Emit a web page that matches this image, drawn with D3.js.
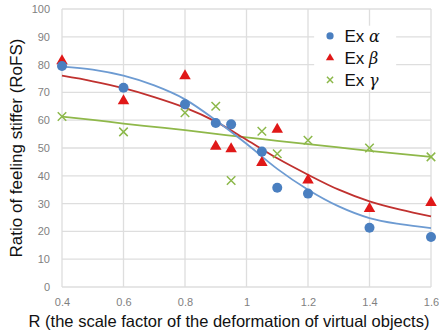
<!DOCTYPE html>
<html>
<head>
<meta charset="utf-8">
<script src="https://cdn.jsdelivr.net/npm/d3@7"></script>
<style>
  body { margin: 0; background: #fff; }
  svg { display: block; }
</style>
</head>
<body>
<div id="chart"></div>
<script>
// measured R values
var rValues = [0.4, 0.6, 0.8, 0.9, 0.95, 1.05, 1.1, 1.2, 1.4, 1.6];
var exAlpha = [79.5, 71.7, 65.7, 59, 58.5, 48.7, 35.7, 33.6, 21.3, 18];
var exBeta  = [81.3, 66.9, 75.9, 50.6, 49.7, 44.7, 56.7, 38.4, 28.2, 30.3];
var exGamma = [61.3, 55.8, 62.7, 65, 38.3, 56, 47.9, 52.8, 50, 46.8];

// trend curves
var trendX = [0.4, 0.5, 0.6, 0.7, 0.8, 0.9, 1.0, 1.1, 1.2, 1.3, 1.4, 1.5, 1.6];
var trendAlpha = [79.3, 78.2, 76, 72.5, 67.5, 60, 51.5, 42.5, 35, 29, 24.8, 22.6, 21.2];
var trendBeta  = [76, 74, 71.5, 68.3, 64.5, 59.5, 53, 46.3, 40.4, 35, 30.8, 27.8, 25.4];
var trendGamma = [61.3, 60.1, 58.8, 57.6, 56.4, 55.1, 53.8, 52.6, 51.4, 50.2, 49, 47.9, 46.8];

var xTicks = [0.4, 0.6, 0.8, 1, 1.2, 1.4, 1.6];
var yTicks = [0, 10, 20, 30, 40, 50, 60, 70, 80, 90, 100];
var legendLabels = ["\u03B1", "\u03B2", "\u03B3"];

var fullWidth = 439, fullHeight = 333;
var margin = {top: 9, right: 8, bottom: 46, left: 62};
var width = fullWidth - margin.left - margin.right;
var height = fullHeight - margin.top - margin.bottom;

var svg = d3.select("#chart").append("svg")
  .attr("width", fullWidth)
  .attr("height", fullHeight);
var g = svg.append("g")
  .attr("transform", "translate(" + margin.left + "," + margin.top + ")");

var xScale = d3.scaleLinear().domain([0.4, 1.6]).range([0, width]);
var yScale = d3.scaleLinear().domain([0, 100]).range([height, 0]);

var tickFont = "'Liberation Sans Narrow', 'Liberation Sans', Arial, sans-serif";

// gridlines
g.append("g").selectAll("line").data(yTicks).enter().append("line")
  .attr("x1", 0).attr("x2", width)
  .attr("y1", function(d) { return yScale(d); })
  .attr("y2", function(d) { return yScale(d); })
  .attr("stroke", "#dedede").attr("stroke-width", 1.3);
g.append("g").selectAll("line").data(xTicks).enter().append("line")
  .attr("x1", function(d) { return xScale(d); })
  .attr("x2", function(d) { return xScale(d); })
  .attr("y1", 0).attr("y2", height)
  .attr("stroke", "#dedede").attr("stroke-width", 1.3);

// axes (labels only, Excel style)
var xAxis = d3.axisBottom(xScale).tickValues(xTicks).tickSize(0).tickPadding(11)
  .tickFormat(function(d) { return d3.format("")(d); });
var yAxis = d3.axisLeft(yScale).tickValues(yTicks).tickSize(0).tickPadding(12);

var gx = g.append("g").attr("transform", "translate(0," + height + ")").call(xAxis);
var gy = g.append("g").call(yAxis);
[gx, gy].forEach(function(a) {
  a.select(".domain").remove();
  a.selectAll("text").attr("fill", "#7f7f7f")
    .style("font-family", tickFont).style("font-size", "11px");
});

// legend background (covers gridlines)
g.append("rect")
  .attr("x", xScale(1.22)).attr("y", yScale(94))
  .attr("width", 82).attr("height", 64)
  .attr("fill", "#fff");

// trend curves
var line = d3.line()
  .x(function(d) { return xScale(d[0]); })
  .y(function(d) { return yScale(d[1]); })
  .curve(d3.curveMonotoneX);

var trends = [
  {vals: trendGamma, color: "#8fb84a"},
  {vals: trendBeta, color: "#c0312f"},
  {vals: trendAlpha, color: "#6d9bd2"}
];
trends.forEach(function(t) {
  g.append("path")
    .datum(trendX.map(function(x, i) { return [x, t.vals[i]]; }))
    .attr("d", line)
    .attr("fill", "none")
    .attr("stroke", t.color)
    .attr("stroke-width", 1.8);
});

// markers
var blue = "#4a7fc0", red = "#e01818", green = "#8cb84a";

function drawMarker(sel, kind, size) {
  if (kind == 0) {
    sel.append("circle").attr("r", size).attr("fill", blue);
  } else if (kind == 1) {
    sel.append("path")
      .attr("d", d3.symbol().type(d3.symbolTriangle).size(size * size * 2.3)())
      .attr("fill", red);
  } else {
    var s = size * 0.85;
    sel.append("path")
      .attr("d", "M" + (-s) + "," + (-s) + "L" + s + "," + s + "M" + (-s) + "," + s + "L" + s + "," + (-s))
      .attr("stroke", green).attr("stroke-width", 1.5).attr("fill", "none");
  }
}

[exGamma, exBeta, exAlpha].forEach(function(series, k) {
  var kind = 2 - k;
  g.append("g").selectAll("g").data(series).enter().append("g")
    .attr("transform", function(d, i) {
      return "translate(" + xScale(rValues[i]) + "," + yScale(d) + ")";
    })
    .each(function() { drawMarker(d3.select(this), kind, 5); });
});

// legend
var legend = g.append("g");
legendLabels.forEach(function(lab, i) {
  var ly = yScale(90.3 - i * 7.9);
  var mk = legend.append("g").attr("transform", "translate(" + (xScale(1.27) + 0.5) + "," + ly + ")");
  drawMarker(mk, i, 3.6);
  var t = legend.append("text")
    .attr("x", xScale(1.27) + 15).attr("y", ly + 6)
    .style("font-family", tickFont).style("font-size", "17px")
    .attr("fill", "#111");
  t.append("tspan").text("Ex ");
  t.append("tspan").style("font-style", "italic").style("font-family", "'DejaVu Serif', serif")
    .style("font-size", "16px").text(lab);
});

// axis titles
svg.append("text")
  .attr("transform", "translate(" + 22 + "," + (margin.top + height / 2) + ") rotate(-90)")
  .attr("text-anchor", "middle")
  .style("font-family", tickFont).style("font-size", "17px")
  .attr("fill", "#111")
  .text("Ratio of feeling stiffer (RoFS)");

svg.append("text")
  .attr("x", 229).attr("y", 327)
  .attr("text-anchor", "middle")
  .style("font-family", tickFont).style("font-size", "16.5px")
  .attr("fill", "#111")
  .text("R (the scale factor of the deformation of virtual objects)");
</script>
</body>
</html>
